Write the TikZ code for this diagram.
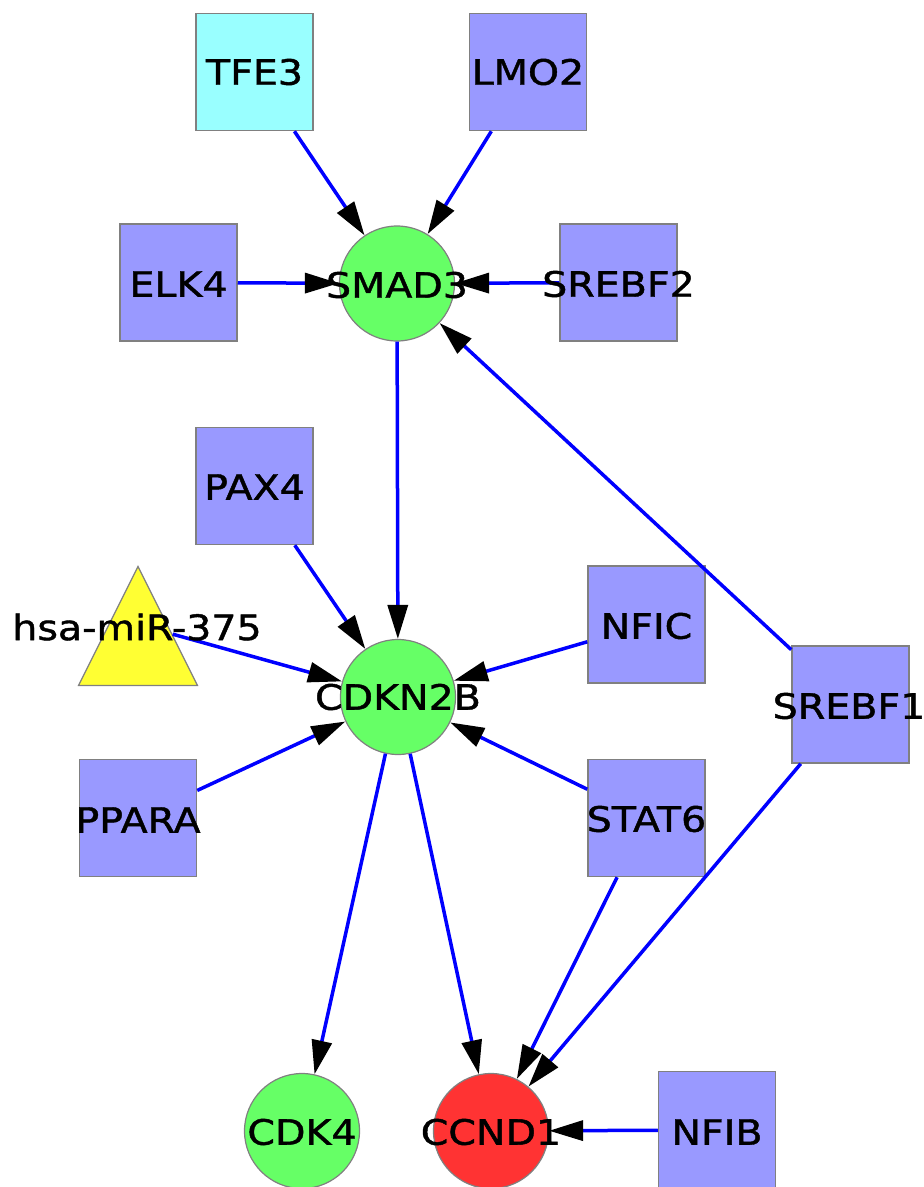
\documentclass[tikz,border=0pt]{standalone}
\usepackage{fontspec}
\setmainfont{DejaVu Sans}[FakeStretch=1.13,FakeBold=1.2]
\usetikzlibrary{arrows.meta,shapes.geometric}
\definecolor{sqblue}{HTML}{9999FF}
\definecolor{sqcyan}{HTML}{99FFFF}
\definecolor{cgreen}{HTML}{66FF66}
\definecolor{cred}{HTML}{FF3333}
\definecolor{tyellow}{HTML}{FFFF33}
\definecolor{bordergray}{HTML}{808080}
\definecolor{linkblue}{HTML}{0000FF}
\begin{document}
\begin{tikzpicture}[x=1pt,y=-1pt,
  sq/.style={rectangle, draw=bordergray, line width=1.5pt, minimum size=117pt, inner sep=0pt, fill=sqblue},
  circ/.style={circle, draw=bordergray, line width=1.2pt, minimum size=115pt, inner sep=0pt},
  tri/.style={isosceles triangle, isosceles triangle stretches, shape border rotate=90, draw=bordergray, line width=1.2pt, fill=tyellow, minimum width=119pt, minimum height=119pt, inner sep=0pt},
  lbl/.style={font=\fontsize{35}{40}\selectfont, text=black, inner sep=0pt},
  link/.style={draw=linkblue, line width=3.5pt, -{Triangle[length=34pt,width=20pt,fill=black,color=black]}}
]
\useasboundingbox (0,0) rectangle (924,1187);
% shapes
\node[sq, fill=sqcyan] (tfe3) at (254.5,72) {};
\node[sq] (lmo2) at (528,72) {};
\node[sq] (elk4) at (178.5,282.5) {};
\node[sq] (srebf2) at (618.5,282.5) {};
\node[circ, fill=cgreen] (smad3) at (397,283.5) {};
\node[sq] (pax4) at (254.5,486) {};
\node[tri, anchor=apex] (mir) at (138,565) {};
\coordinate (mirc) at (138,624.5);
\node[circ, fill=cgreen] (cdkn2b) at (398,697) {};
\node[sq] (nfic) at (646.5,624.5) {};
\node[sq] (srebf1) at (850.5,704.5) {};
\node[sq] (ppara) at (138,818) {};
\node[sq] (stat6) at (646.5,818) {};
\node[circ, fill=cgreen] (cdk4) at (302,1131) {};
\node[circ, fill=cred] (ccnd1) at (491,1131) {};
\node[sq] (nfib) at (717,1130) {};
% connectors
\draw[link] (tfe3) -- (smad3);
\draw[link] (lmo2) -- (smad3);
\draw[link] (elk4) -- (smad3);
\draw[link] (srebf2) -- (smad3);
\draw[link] (srebf1) -- (smad3);
\draw[link] (smad3) -- (cdkn2b);
\draw[link] (pax4) -- (cdkn2b);
\draw[link, shorten <=36pt] (mirc) -- (cdkn2b);
\draw[link] (nfic) -- (cdkn2b);
\draw[link] (ppara) -- (cdkn2b);
\draw[link] (stat6) -- (cdkn2b);
\draw[link] (cdkn2b) -- (cdk4);
\draw[link] (cdkn2b) -- (ccnd1);
\draw[link] (stat6) -- (ccnd1);
\draw[link] (srebf1) -- (ccnd1);
\draw[link] (nfib) -- (ccnd1);
% labels
\node[lbl] (tfe3-l) at (254.5,72) {TFE3};
\node[lbl] (lmo2-l) at (528,72) {LMO2};
\node[lbl] (elk4-l) at (178.5,284) {ELK4};
\node[lbl] (srebf2-l) at (618.5,284) {SREBF2};
\node[lbl] (smad3-l) at (397,285) {SMAD3};
\node[lbl] (pax4-l) at (254.5,487) {PAX4};
\node[lbl] (mir-l) at (137,627) {hsa-miR-375};
\node[lbl] (cdkn2b-l) at (398,697) {CDKN2B};
\node[lbl] (nfic-l) at (646.5,626) {NFIC};
\node[lbl] (srebf1-l) at (849,706) {SREBF1};
\node[lbl] (ppara-l) at (138,820) {PPARA};
\node[lbl] (stat6-l) at (646.5,819) {STAT6};
\node[lbl] (cdk4-l) at (302,1132) {CDK4};
\node[lbl] (ccnd1-l) at (491,1132) {CCND1};
\node[lbl] (nfib-l) at (717,1132) {NFIB};
\end{tikzpicture}
\end{document}
